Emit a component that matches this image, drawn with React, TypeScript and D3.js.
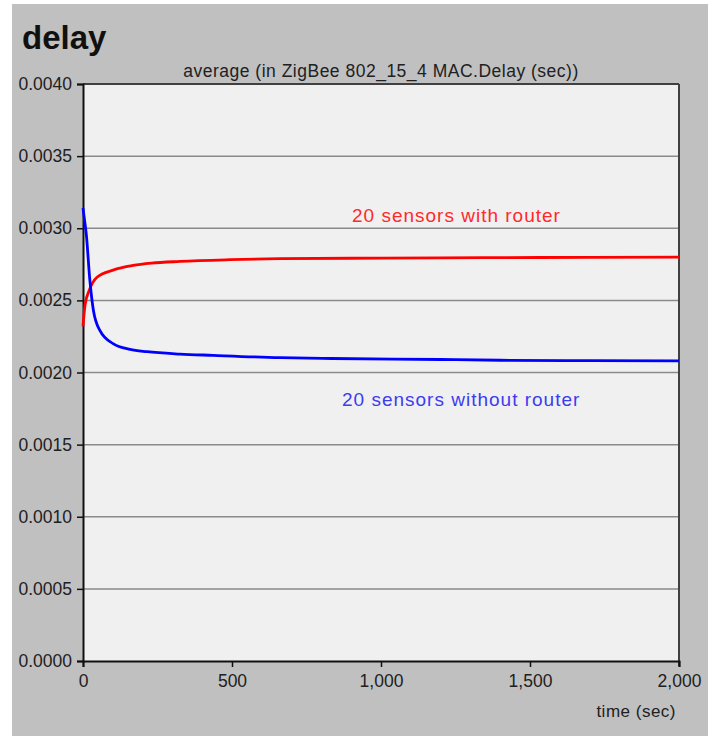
import React, { useEffect, useRef } from 'react';
import * as d3 from 'd3';

// values (time in sec, delay in sec)
const redTimes = [0, 7, 23, 47, 101, 168, 230, 325, 493, 661, 1000, 1350, 1700, 2000];
const redValues = [0.00232, 0.00247, 0.00258, 0.00266, 0.00271, 0.002742, 0.002758, 0.00277, 0.002782, 0.002789, 0.002793, 0.002796, 0.002798, 0.0028];

const blueTimes = [0, 5, 11, 23, 35, 57, 101, 158, 215, 325, 436, 661, 835, 1200, 1400, 1700, 2000];
const blueValues = [0.00314, 0.00306, 0.00296, 0.00264, 0.00243, 0.00229, 0.0022, 0.00216, 0.002144, 0.002128, 0.002119, 0.002103, 0.002097, 0.00209, 0.002085, 0.002082, 0.00208];

const yTicks = [0, 0.0005, 0.001, 0.0015, 0.002, 0.0025, 0.003, 0.0035, 0.004];
const xTicks = [0, 500, 1000, 1500, 2000];

const W = 708;
const H = 736;

export default function App() {
  const svgRef = useRef<SVGSVGElement>(null);

  useEffect(() => {
    if (!svgRef.current) return;
    const svg = d3.select(svgRef.current);
    svg.selectAll('*').remove();

    const left = 83, right = 679, top = 84, bottom = 661;
    const x = d3.scaleLinear().domain([0, 2000]).range([left, right]);
    const y = d3.scaleLinear().domain([0, 0.004]).range([bottom, top]);
    const font = 'Liberation Sans, Arial, sans-serif';

    svg.append('rect').attr('width', W).attr('height', H).attr('fill', '#ffffff');
    svg.append('rect').attr('x', 12).attr('y', 4).attr('width', W - 12).attr('height', H - 4).attr('fill', '#c0c0c0');

    svg.append('text').attr('x', 22).attr('y', 49).text('delay')
      .attr('font-family', font).attr('font-size', 33).attr('font-weight', 'bold').attr('fill', '#101010');

    svg.append('text').attr('x', 381).attr('y', 77).attr('text-anchor', 'middle')
      .text('average (in ZigBee 802_15_4 MAC.Delay (sec))')
      .attr('font-family', font).attr('font-size', 17.5).attr('letter-spacing', 0.5).attr('fill', '#202020');

    // plot area
    svg.append('rect').attr('x', left).attr('y', top).attr('width', right - left).attr('height', bottom - top)
      .attr('fill', '#f0f0f0');

    // gridlines
    svg.append('g').selectAll('line')
      .data(yTicks.filter(t => t > 0 && t < 0.004))
      .enter().append('line')
      .attr('x1', left).attr('x2', right)
      .attr('y1', d => y(d)).attr('y2', d => y(d))
      .attr('stroke', '#8a8a8a').attr('stroke-width', 1.5);

    // borders
    svg.append('line').attr('x1', left).attr('x2', right).attr('y1', top).attr('y2', top)
      .attr('stroke', '#404040').attr('stroke-width', 2);
    svg.append('line').attr('x1', right).attr('x2', right).attr('y1', top).attr('y2', bottom + 5)
      .attr('stroke', '#404040').attr('stroke-width', 2);

    // y axis
    const yAxis = svg.append('g').attr('transform', `translate(${left},0)`)
      .call(d3.axisLeft(y).tickValues(yTicks).tickFormat(d3.format('.4f')).tickSize(6).tickPadding(5));
    yAxis.select('.domain').attr('stroke', '#101010').attr('stroke-width', 2);
    yAxis.selectAll('.tick line').attr('stroke', '#101010').attr('stroke-width', 1.5);
    yAxis.selectAll('.tick text').attr('font-family', font).attr('font-size', 17.5).attr('fill', '#202020');

    // x axis
    const xAxis = svg.append('g').attr('transform', `translate(0,${bottom})`)
      .call(d3.axisBottom(x).tickValues(xTicks).tickFormat(d3.format(',')).tickSize(6).tickPadding(8));
    xAxis.select('.domain').attr('stroke', '#101010').attr('stroke-width', 2);
    xAxis.selectAll('.tick line').attr('stroke', '#101010').attr('stroke-width', 1.5);
    xAxis.selectAll('.tick text').attr('font-family', font).attr('font-size', 17.5).attr('fill', '#202020');

    svg.append('text').attr('x', 676).attr('y', 717).attr('text-anchor', 'end').text('time (sec)')
      .attr('font-family', font).attr('font-size', 17).attr('letter-spacing', 0.5).attr('fill', '#202020');

    const line = d3.line<[number, number]>()
      .x(d => x(d[0])).y(d => y(d[1]))
      .curve(d3.curveMonotoneX);

    const plot = svg.append('g');
    plot.append('path')
      .datum(redTimes.map((t, i) => [t, redValues[i]] as [number, number]))
      .attr('d', line).attr('fill', 'none').attr('stroke', '#ff0000').attr('stroke-width', 2.8);
    plot.append('path')
      .datum(blueTimes.map((t, i) => [t, blueValues[i]] as [number, number]))
      .attr('d', line).attr('fill', 'none').attr('stroke', '#0000ff').attr('stroke-width', 2.8);

    svg.append('text').attr('x', 352).attr('y', 222).text('20 sensors with router')
      .attr('font-family', font).attr('font-size', 19).attr('letter-spacing', 1).attr('fill', '#ff2a2a');
    svg.append('text').attr('x', 342).attr('y', 406).text('20 sensors without router')
      .attr('font-family', font).attr('font-size', 19).attr('letter-spacing', 1).attr('fill', '#3c3cf0');
  }, []);

  return (
    <svg ref={svgRef} width={W} height={H}
      style={{ position: 'absolute', left: 0, top: 0, display: 'block' }} />
  );
}
